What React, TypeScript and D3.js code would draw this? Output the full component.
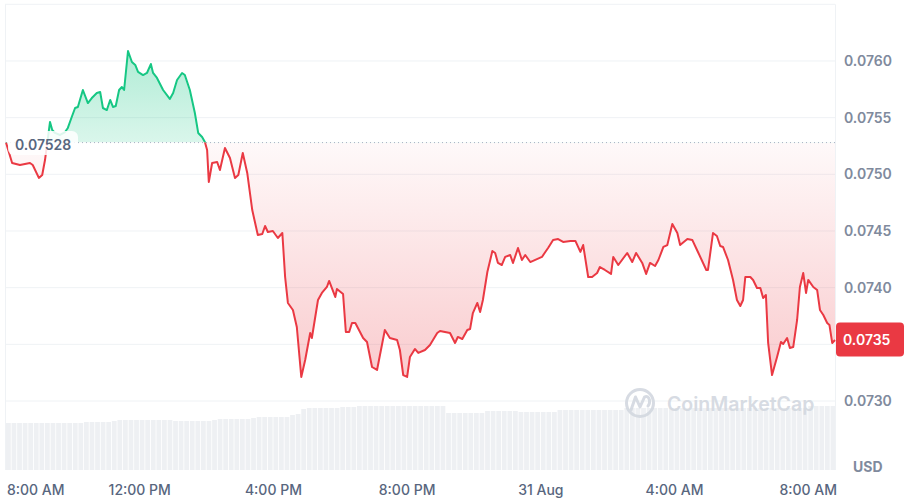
import React from "react";
import * as d3 from "d3";

const startTime = new Date(2023, 7, 30, 8, 0, 0);
const minutes = [0,4,11,25,43,48,59,65,70,74,79,83,88,97,106,111,118,124,129,138,147,154,163,169,174,181,187,192,197,203,208,212,219,226,232,237,246,253,260,264,271,282,294,300,307,316,321,330,339,345,352,357,361,364,370,379,384,393,402,411,417,425,433,442,452,460,465,470,479,488,496,501,506,515,522,530,537,546,549,560,567,576,580,591,594,605,610,616,621,627,641,648,657,666,680,689,702,707,713,720,725,734,740,752,761,774,779,797,806,811,819,828,833,838,846,851,856,864,873,878,883,890,896,905,910,919,926,932,941,962,968,973,982,991,1000,1013,1022,1031,1036,1045,1052,1061,1066,1075,1086,1090,1099,1115,1124,1131,1142,1149,1156,1165,1171,1180,1187,1196,1205,1210,1223,1232,1242,1257,1260,1269,1276,1282,1287,1296,1305,1312,1318,1323,1327,1336,1341,1348,1354,1359,1364,1368,1375,1384,1391,1395,1402,1407,1413,1420,1425,1431,1436,1440,1449,1456,1461,1467,1474,1478,1483,1488];
const prices = [0.07528,0.075215,0.0751,0.075082,0.0751,0.075082,0.074968,0.074994,0.075126,0.075276,0.075462,0.075391,0.075365,0.075347,0.075373,0.075409,0.075506,0.075585,0.075594,0.075744,0.075629,0.075673,0.075717,0.075726,0.075585,0.075567,0.075656,0.075594,0.075603,0.075744,0.07577,0.075744,0.076088,0.075991,0.075965,0.075903,0.075876,0.075894,0.075973,0.075894,0.07585,0.075744,0.075665,0.075717,0.075832,0.075894,0.075876,0.075744,0.075541,0.075365,0.075329,0.075285,0.075215,0.074932,0.0751,0.075109,0.075038,0.075232,0.075144,0.074968,0.074994,0.075188,0.075012,0.074685,0.074465,0.074473,0.074544,0.074491,0.0745,0.074438,0.074482,0.074094,0.073865,0.073803,0.073653,0.073212,0.073362,0.0736,0.073556,0.073891,0.073953,0.074006,0.074059,0.073918,0.073988,0.073944,0.073609,0.073609,0.073688,0.073688,0.073556,0.073521,0.0733,0.073274,0.073626,0.073556,0.073538,0.07345,0.073229,0.073212,0.073388,0.073459,0.073424,0.07345,0.073494,0.0736,0.073618,0.0736,0.073512,0.073565,0.073547,0.073626,0.073635,0.073776,0.073865,0.073785,0.073891,0.074138,0.074323,0.074306,0.074218,0.0742,0.074271,0.074288,0.074218,0.07435,0.074244,0.074288,0.074226,0.074271,0.074315,0.07435,0.07442,0.074429,0.074403,0.074412,0.074412,0.074315,0.074376,0.074094,0.074094,0.074129,0.074182,0.074156,0.074121,0.074271,0.0742,0.074306,0.074226,0.074306,0.074218,0.074121,0.074218,0.074191,0.074244,0.074359,0.074376,0.074562,0.074482,0.074376,0.074429,0.07442,0.074315,0.074156,0.074156,0.074482,0.074456,0.074368,0.074359,0.074244,0.074068,0.073891,0.073838,0.073891,0.074094,0.074094,0.074068,0.073997,0.073997,0.073909,0.073935,0.073512,0.073229,0.073388,0.073521,0.073503,0.073556,0.073468,0.073476,0.073715,0.074006,0.074129,0.073953,0.074068,0.074006,0.073979,0.073803,0.073759,0.073688,0.073671,0.073512,0.073538];

// rolling volume (M USD), one value every 10 minutes
const volumeStepMinutes = 10;
const volumes = [
  47,47,47,47,47,47,47,47,47,47,47,47,47,47,
  48,48,48,48,48,
  49,50,50,50,50,50,50,50,50,50,50,
  49,49,49,49,49,49,49,
  50,51,51,51,51,51,51,
  52,53,53,53,53,53,53,
  55,56,
  61,62,62,62,62,62,62,63,63,63,
  64,64,64,64,64,64,64,64,64,64,64,64,64,64,64,64,
  57,57,57,57,57,57,57,
  59,59,59,59,59,59,
  58,58,58,58,58,58,58,
  60,60,60,60,60,60,60,60,60,60,60,60,
  62,62,62,62,62,62,62,62,62,62,62,62,62,62,62,62,62,62,62,62,62,62,62,62,62,62,62,62,62,62,62,62,62,
  64,64,64,64,64,
];

const gridValues = [0.073, 0.0735, 0.074, 0.0745, 0.075, 0.0755, 0.076, 0.0765];
const yTickLabels = ["0.0730", "0.0735", "0.0740", "0.0745", "0.0750", "0.0755", "0.0760"];
const yTickValues = [0.073, 0.0735, 0.074, 0.0745, 0.075, 0.0755, 0.076];
const baselinePrice = 0.07528;
const baselineLabel = "0.07528";
const lastPriceLabel = "0.0735";
const endMinutes = 1488;

const W = 907;
const H = 502;
const X0 = 6;
const X1 = 835;
const PLOT_TOP = 4.3;
const Y_BOTTOM_GRID = 401;
const VOL_BASE = 470;

const GREEN = "#16c784";
const RED = "#ea3943";
const FONT = "Inter, 'Noto Sans', sans-serif";

export default function App() {
  const data = minutes.map((m, i) => ({ t: d3.timeMinute.offset(startTime, m), p: prices[i] }));
  const x = d3.scaleTime().domain([startTime, d3.timeMinute.offset(startTime, endMinutes)]).range([X0, X1]);
  const y = d3.scaleLinear().domain([0.073, 0.0765]).range([Y_BOTTOM_GRID, PLOT_TOP]);
  const yVol = d3.scaleLinear().domain([0, 100]).range([VOL_BASE, VOL_BASE - 100]);

  const by = y(baselinePrice);
  const maxP = d3.max(prices) as number;
  const minP = d3.min(prices) as number;

  const line = d3.line<any>().x((d) => x(d.t)).y((d) => y(d.p));
  const area = d3.area<any>().x((d) => x(d.t)).y0(by).y1((d) => y(d.p));
  const linePath = line(data) || "";
  const areaPath = area(data) || "";

  const volData = volumes.map((v, i) => ({ t: d3.timeMinute.offset(startTime, i * volumeStepMinutes), v }));
  const barW = x(d3.timeMinute.offset(startTime, volumeStepMinutes)) - x(startTime);

  const ticks = x.ticks(d3.timeHour.every(4) as any);
  const fmt = (d: Date) => (d.getHours() === 0 ? d3.timeFormat("%-d %b")(d) : d3.timeFormat("%-I:%M %p")(d));

  const lastP = prices[prices.length - 1];
  const lastY = y(lastP);
  const badgeTop = lastY - 17.5;
  const badgeBottom = lastY + 16.5;

  return (
    <div style={{ position: "absolute", left: 0, top: 0, width: W, height: H, background: "#fff" }}>
      <svg width={W} height={H} style={{ display: "block" }}>
        <defs>
          <clipPath id="above">
            <rect x={0} y={0} width={X1 + 1} height={by} />
          </clipPath>
          <clipPath id="below">
            <rect x={0} y={by} width={X1 + 1} height={H - by} />
          </clipPath>
          <linearGradient id="gGreen" gradientUnits="userSpaceOnUse" x1={0} x2={0} y1={y(maxP)} y2={by}>
            <stop offset="0" stopColor={GREEN} stopOpacity={0.34} />
            <stop offset="1" stopColor={GREEN} stopOpacity={0.16} />
          </linearGradient>
          <linearGradient id="gRed" gradientUnits="userSpaceOnUse" x1={0} x2={0} y1={by} y2={y(minP)}>
            <stop offset="0" stopColor={RED} stopOpacity={0.03} />
            <stop offset="1" stopColor={RED} stopOpacity={0.26} />
          </linearGradient>
        </defs>

        {/* grid */}
        {gridValues.map((g) => (
          <line key={g} x1={5} x2={X1} y1={y(g)} y2={y(g)} stroke="#eff2f5" strokeWidth={1} />
        ))}
        <line x1={5.5} x2={5.5} y1={PLOT_TOP} y2={VOL_BASE} stroke="#eff2f5" />
        <line x1={X1 + 0.5} x2={X1 + 0.5} y1={PLOT_TOP} y2={VOL_BASE} stroke="#eff2f5" />

        {/* volume */}
        {volData.map((d, i) => (
          <rect
            key={i}
            x={x(d.t)}
            y={yVol(d.v)}
            width={Math.max(0, Math.min(barW - 0.8, X1 - x(d.t)))}
            height={VOL_BASE - yVol(d.v)}
            fill="#eef0f3"
          />
        ))}

        {/* watermark */}
        <g opacity={0.9}>
          <circle cx={640} cy={403} r={13.5} fill="none" stroke="#d3d8e0" strokeWidth={3} />
          <path d="M631,410 L635.5,397 L640,407 L644.5,397 Q648,395 649.5,400 Q650,404 648,406" fill="none" stroke="#d3d8e0" strokeWidth={3} strokeLinecap="round" strokeLinejoin="round" />
          <text x={667} y={411} fontFamily={FONT} fontSize={19.5} fontWeight={600} fill="#d3d8e0">CoinMarketCap</text>
        </g>

        {/* areas */}
        <path d={areaPath} fill="url(#gGreen)" clipPath="url(#above)" />
        <path d={areaPath} fill="url(#gRed)" clipPath="url(#below)" />

        {/* baseline */}
        <line x1={X0} x2={X1} y1={by} y2={by} stroke="#a6b0c3" strokeWidth={1} strokeDasharray="1 3" />

        {/* lines */}
        <path d={linePath} fill="none" stroke={GREEN} strokeWidth={2} strokeLinejoin="round" clipPath="url(#above)" />
        <path d={linePath} fill="none" stroke={RED} strokeWidth={2} strokeLinejoin="round" clipPath="url(#below)" />

        {/* baseline label */}
        <rect x={8} y={by - 11.5} width={70} height={24} rx={6} fill="#ffffff" fillOpacity={0.85} />
        <text x={15} y={by + 7} fontFamily={FONT} fontSize={14} fontWeight={600} fill="#58667e">{baselineLabel}</text>

        {/* y axis labels (the one hidden under the last-price badge is skipped) */}
        {yTickValues.map((v, i) =>
          y(v) > badgeTop - 4 && y(v) < badgeBottom + 4 ? null : (
            <text key={v} x={844} y={y(v) + 5} fontFamily={FONT} fontSize={14} fontWeight={600} fill="#808a9d">{yTickLabels[i]}</text>
          )
        )}

        {/* last price badge */}
        <rect x={836} y={badgeTop} width={68} height={34} rx={4} fill={RED} />
        <text x={843} y={lastY + 5} fontFamily={FONT} fontSize={14} fontWeight={600} fill="#ffffff">{lastPriceLabel}</text>

        <text x={853} y={472} fontFamily={FONT} fontSize={14} fontWeight={700} fill="#808a9d">USD</text>

        {/* x axis labels */}
        {ticks.map((t, i) => (
          <text
            key={i}
            x={i === 0 ? 7 : x(t)}
            y={495}
            textAnchor={i === 0 ? "start" : "middle"}
            fontFamily={FONT}
            fontSize={14}
            fontWeight={500}
            fill="#58667e"
          >
            {fmt(t)}
          </text>
        ))}
      </svg>
    </div>
  );
}
